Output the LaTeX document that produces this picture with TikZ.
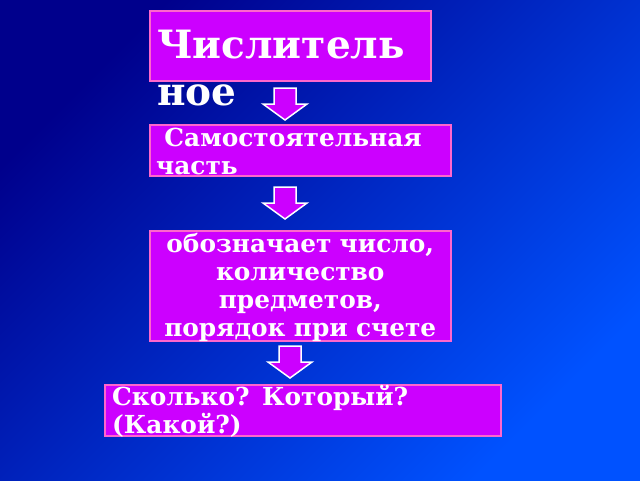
\documentclass[tikz,border=0pt]{standalone}
\usepackage{fontspec}
\setmainfont{DejaVu Serif}
\usetikzlibrary{positioning,shadows}

\definecolor{slidenavy}{HTML}{00008C}
\definecolor{slideblue}{HTML}{0052FF}
\definecolor{boxfill}{HTML}{CC00FF}
\definecolor{boxline}{HTML}{FF66CC}

\tikzset{
  box/.style={draw=boxline, line width=1.5pt, fill=boxfill, inner sep=0pt, anchor=north west,
    drop shadow={shadow xshift=1pt, shadow yshift=-1.5pt, opacity=0.5}},
  boxtext/.style={text=white, inner sep=0pt, font=\bfseries\fontsize{24.8}{28}\selectfont},
  downarrow/.style={fill=boxfill, draw=white, line width=1.5pt, line join=miter},
  pics/blockarrow/.style={code={
    \draw[downarrow] (-11,0) -- (11,0) -- (11,16) -- (22,16) -- (0,32) -- (-22,16) -- (-11,16) -- cycle;
  }}
}

\begin{document}
\begin{tikzpicture}[x=1pt, y=-1pt]

% Background
\shade[top color=slidenavy, bottom color=slideblue, shading angle=45] (0,0) rectangle (640,480);
\useasboundingbox (0,0) rectangle (640,480);

% Boxes
\node[box, minimum width=281, minimum height=70] (numbox) at (149,10) {};
\node[box, minimum width=301, minimum height=51] (selfbox) at (149,124) {};
\node[box, minimum width=301, minimum height=110] (meanbox) at (149,230) {};
\node[box, minimum width=396, minimum height=51] (askbox) at (104,384) {};

% Texts
\node[boxtext, font=\bfseries\fontsize{39}{47}\selectfont, anchor=base west, align=left, text width=300pt] (numtext) at (157,58) {Числитель\\ное};
\node[boxtext, anchor=base west, align=left, text width=300pt] (selftext) at (156,146) {\ Самостоятельная\\часть};
\node[boxtext, anchor=base, align=center, text width=300pt] (meantext) at (meanbox.north |- 0,252) {обозначает число,\\количество\\предметов,\\порядок при счете};
\node[boxtext, anchor=base west, align=left, text width=390pt] (asktext) at (112,405) {Сколько? Который?\\(Какой?)};

% Arrows
\pic at (285,88) {blockarrow};
\pic at (285,187) {blockarrow};
\pic at (290,346) {blockarrow};

\end{tikzpicture}
\end{document}
